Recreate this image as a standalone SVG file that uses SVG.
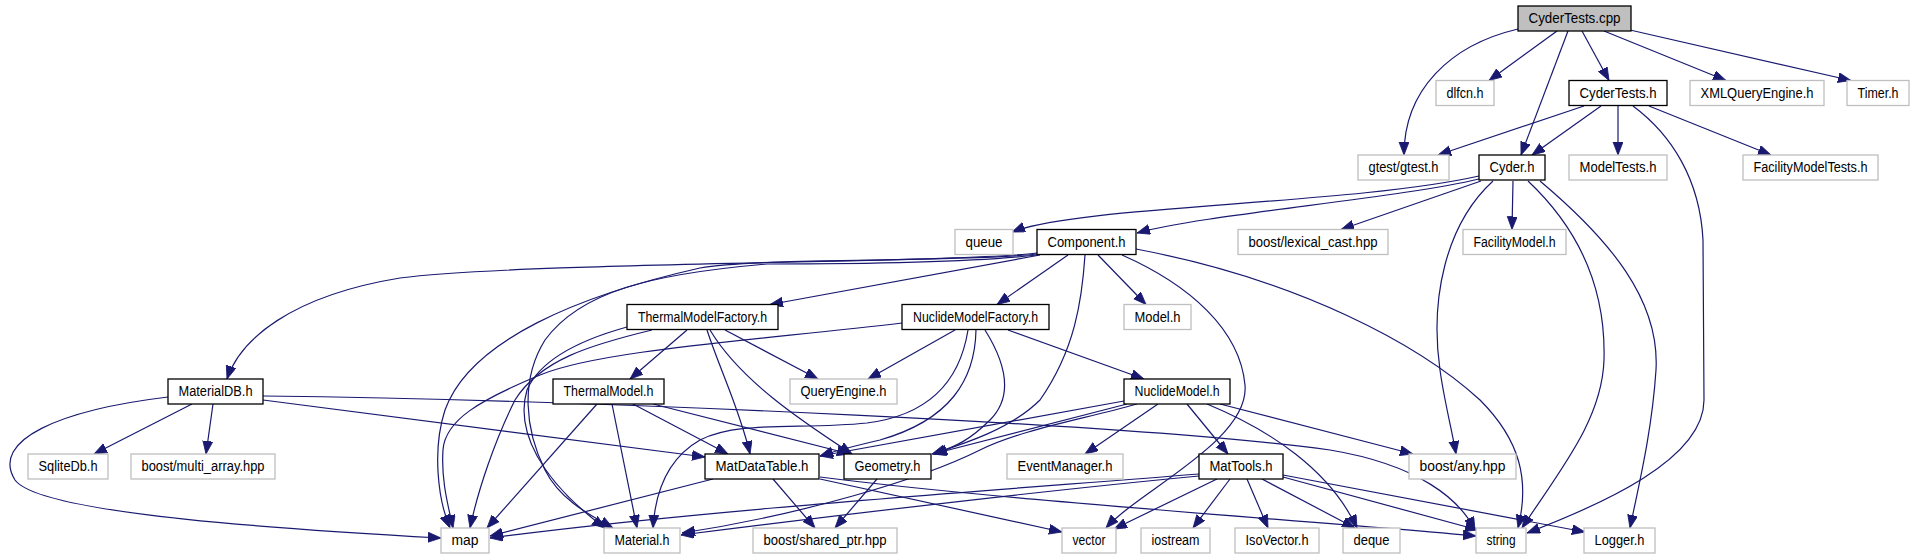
<svg xmlns="http://www.w3.org/2000/svg" width="1915" height="560" viewBox="0 0 1915 560">
<style>
.node rect{fill:#ffffff;stroke:#000000;stroke-width:1.3}
.ext rect{fill:#ffffff;stroke:#bfbfbf;stroke-width:1.3}
.root rect{fill:#bfbfbf;stroke:#000000;stroke-width:1.3}
text{font-family:"Liberation Sans",Arial,Helvetica,sans-serif;font-size:14px;fill:#000;text-anchor:middle}
#edges path{fill:none;stroke:#191970;stroke-width:1.2;marker-end:url(#arr)}
</style>
<defs>
<marker id="arr" markerUnits="userSpaceOnUse" markerWidth="14" markerHeight="11" refX="13" refY="5" orient="auto">
<path d="M0,0 L13,5 L0,10 z" fill="#191970" stroke="#191970" stroke-width="0.8"/>
</marker>
</defs>
<rect x="0" y="0" width="1915" height="560" fill="#ffffff"/>
<g id="edges">
<path d="M1518,29 C1450,45 1404,90 1404,155"/>
<path d="M1557,31 L1489,80.5"/>
<path d="M1568,31 L1521,155"/>
<path d="M1582,31 L1609,80.5"/>
<path d="M1604,31 L1726,80.5"/>
<path d="M1630,30 L1851,80.5"/>
<path d="M1584,106 L1438,155"/>
<path d="M1601,106 L1532,155"/>
<path d="M1618,106 L1618,155"/>
<path d="M1649,106 L1771,155"/>
<path d="M1633,106 C1672,135 1700,180 1703,240 L1704,400 C1704,460 1600,505 1527,533"/>
<path d="M1479,176 C1350,205 1080,205 1012,232"/>
<path d="M1479,179 C1400,198 1200,215 1137,233"/>
<path d="M1481,181 L1341,229.5"/>
<path d="M1513,181 L1512,229.5"/>
<path d="M1493,181 C1445,225 1430,300 1440,370 C1444,400 1452,430 1456,454"/>
<path d="M1528,181 C1580,230 1606,290 1604,360 C1602,420 1560,470 1522,528"/>
<path d="M1540,181 C1610,240 1660,300 1656,370 C1652,430 1640,480 1630,528"/>
<path d="M1037,253 C960,263 520,262 400,278 C290,296 240,340 227,379"/>
<path d="M1037,254 C960,263 760,257 700,268 C580,295 470,340 445,410 C432,450 438,500 450,528"/>
<path d="M1037,255 C960,264 800,264 767,264 C650,274 580,292 545,340 C520,380 525,430 545,470 C560,500 590,515 613,528"/>
<path d="M1040,255 L770,304.5"/>
<path d="M1068,255 L997,304.5"/>
<path d="M1085,255 C1082,300 1075,350 1040,400 C1010,430 960,445 932,454"/>
<path d="M1098,255 L1146,304.5"/>
<path d="M1122,255 C1190,285 1240,330 1245,385 C1250,440 1140,490 1106,528"/>
<path d="M1136,249 C1300,280 1420,345 1480,400 C1520,440 1530,480 1518,528"/>
<path d="M687,330 L630,379"/>
<path d="M725,330 L818,379"/>
<path d="M707,330 C720,370 740,410 750,454"/>
<path d="M710,330 C740,380 800,420 852,454"/>
<path d="M652,330 C590,345 540,360 515,400 C495,440 478,490 470,528"/>
<path d="M627,327 C580,340 540,360 527,390 C515,430 540,480 605,528"/>
<path d="M955,330 L868,379"/>
<path d="M1008,330 L1144,379"/>
<path d="M902,323 C760,340 600,350 540,375 C480,400 445,420 443,450 C441,480 448,505 453,528"/>
<path d="M968,330 C960,380 930,415 867,423 C800,430 740,420 700,440 C665,460 655,495 653,528"/>
<path d="M976,330 C975,380 950,420 880,440 C850,447 835,451 820,456"/>
<path d="M985,330 C1010,370 1010,400 990,420 C970,440 955,447 934,454"/>
<path d="M192,404 L94,454"/>
<path d="M213,404 L206,454"/>
<path d="M168,397 C60,410 -10,440 15,480 C40,515 300,530 441,538"/>
<path d="M263,400 L705,457"/>
<path d="M263,396 C600,400 1150,425 1330,450 C1420,465 1460,500 1475,530"/>
<path d="M597,404 L487,528"/>
<path d="M612,404 L637,528"/>
<path d="M633,404 L728,454"/>
<path d="M653,404 L850,454"/>
<path d="M1158,404 L1085,454"/>
<path d="M1187,404 L1228,454"/>
<path d="M1207,404 C1270,430 1330,470 1357,528"/>
<path d="M1220,404 L1413,454"/>
<path d="M1124,401 L820,456"/>
<path d="M1127,404 L933,454"/>
<path d="M1137,404 C1080,420 1020,430 980,450 C920,480 800,515 682,533"/>
<path d="M713,479 L490,536"/>
<path d="M773,479 L815,528"/>
<path d="M820,479 L1062,532"/>
<path d="M820,477 C1000,500 1300,520 1476,536"/>
<path d="M877,479 L835,528"/>
<path d="M1217,479 L1114,529"/>
<path d="M1230,479 L1193,528"/>
<path d="M1247,479 L1268,528"/>
<path d="M1262,479 L1355,528"/>
<path d="M1283,477 L1478,530"/>
<path d="M1283,475 L1585,532"/>
<path d="M1199,474 C1000,490 700,510 490,538"/>
<path d="M1199,476 C1000,495 800,520 681,535"/>
</g>
<g id="n_cyderTestsCpp" class="root"><rect x="1518" y="6" width="113" height="25"/><text x="1574.5" y="23" textLength="92" lengthAdjust="spacingAndGlyphs">CyderTests.cpp</text></g>
<g id="n_dlfcn" class="ext"><rect x="1436" y="80.5" width="58" height="25"/><text x="1465" y="97.5" textLength="37" lengthAdjust="spacingAndGlyphs">dlfcn.h</text></g>
<g id="n_cyderTestsH" class="node"><rect x="1569" y="80.5" width="98" height="25"/><text x="1618" y="97.5" textLength="77" lengthAdjust="spacingAndGlyphs">CyderTests.h</text></g>
<g id="n_xmlQueryEngine" class="ext"><rect x="1690" y="80.5" width="134" height="25"/><text x="1757" y="97.5" textLength="113" lengthAdjust="spacingAndGlyphs">XMLQueryEngine.h</text></g>
<g id="n_timer" class="ext"><rect x="1847" y="80.5" width="62" height="25"/><text x="1878" y="97.5" textLength="41" lengthAdjust="spacingAndGlyphs">Timer.h</text></g>
<g id="n_gtest" class="ext"><rect x="1358" y="155" width="91" height="25"/><text x="1403.5" y="172" textLength="70" lengthAdjust="spacingAndGlyphs">gtest/gtest.h</text></g>
<g id="n_cyderH" class="node"><rect x="1479" y="155" width="66" height="25"/><text x="1512" y="172" textLength="45" lengthAdjust="spacingAndGlyphs">Cyder.h</text></g>
<g id="n_modelTests" class="ext"><rect x="1569" y="155" width="98" height="25"/><text x="1618" y="172" textLength="77" lengthAdjust="spacingAndGlyphs">ModelTests.h</text></g>
<g id="n_facilityModelTests" class="ext"><rect x="1743" y="155" width="135" height="25"/><text x="1810.5" y="172" textLength="114" lengthAdjust="spacingAndGlyphs">FacilityModelTests.h</text></g>
<g id="n_queue" class="ext"><rect x="955" y="229.5" width="58" height="25"/><text x="984" y="246.5" textLength="37" lengthAdjust="spacingAndGlyphs">queue</text></g>
<g id="n_component" class="node"><rect x="1037" y="229.5" width="99" height="25"/><text x="1086.5" y="246.5" textLength="78" lengthAdjust="spacingAndGlyphs">Component.h</text></g>
<g id="n_lexicalCast" class="ext"><rect x="1238" y="229.5" width="150" height="25"/><text x="1313" y="246.5" textLength="129" lengthAdjust="spacingAndGlyphs">boost/lexical_cast.hpp</text></g>
<g id="n_facilityModel" class="ext"><rect x="1463" y="229.5" width="103" height="25"/><text x="1514.5" y="246.5" textLength="82" lengthAdjust="spacingAndGlyphs">FacilityModel.h</text></g>
<g id="n_thermalModelFactory" class="node"><rect x="627" y="304.5" width="151" height="25"/><text x="702.5" y="321.5" textLength="129" lengthAdjust="spacingAndGlyphs">ThermalModelFactory.h</text></g>
<g id="n_nuclideModelFactory" class="node"><rect x="902" y="304.5" width="147" height="25"/><text x="975.5" y="321.5" textLength="125" lengthAdjust="spacingAndGlyphs">NuclideModelFactory.h</text></g>
<g id="n_model" class="ext"><rect x="1124" y="304.5" width="67" height="25"/><text x="1157.5" y="321.5" textLength="46" lengthAdjust="spacingAndGlyphs">Model.h</text></g>
<g id="n_materialDB" class="node"><rect x="168" y="379" width="95" height="25"/><text x="215.5" y="396" textLength="74" lengthAdjust="spacingAndGlyphs">MaterialDB.h</text></g>
<g id="n_thermalModel" class="node"><rect x="553" y="379" width="111" height="25"/><text x="608.5" y="396" textLength="90" lengthAdjust="spacingAndGlyphs">ThermalModel.h</text></g>
<g id="n_queryEngine" class="ext"><rect x="790" y="379" width="107" height="25"/><text x="843.5" y="396" textLength="86" lengthAdjust="spacingAndGlyphs">QueryEngine.h</text></g>
<g id="n_nuclideModel" class="node"><rect x="1124" y="379" width="106" height="25"/><text x="1177" y="396" textLength="85" lengthAdjust="spacingAndGlyphs">NuclideModel.h</text></g>
<g id="n_sqliteDb" class="ext"><rect x="28" y="454" width="80" height="25"/><text x="68" y="471" textLength="59" lengthAdjust="spacingAndGlyphs">SqliteDb.h</text></g>
<g id="n_multiArray" class="ext"><rect x="131" y="454" width="144" height="25"/><text x="203" y="471" textLength="123" lengthAdjust="spacingAndGlyphs">boost/multi_array.hpp</text></g>
<g id="n_matDataTable" class="node"><rect x="705" y="454" width="114" height="25"/><text x="762" y="471" textLength="93" lengthAdjust="spacingAndGlyphs">MatDataTable.h</text></g>
<g id="n_geometry" class="node"><rect x="844" y="454" width="87" height="25"/><text x="887.5" y="471" textLength="66" lengthAdjust="spacingAndGlyphs">Geometry.h</text></g>
<g id="n_eventManager" class="ext"><rect x="1007" y="454" width="116" height="25"/><text x="1065" y="471" textLength="95" lengthAdjust="spacingAndGlyphs">EventManager.h</text></g>
<g id="n_matTools" class="node"><rect x="1199" y="454" width="84" height="25"/><text x="1241" y="471" textLength="63" lengthAdjust="spacingAndGlyphs">MatTools.h</text></g>
<g id="n_any" class="ext"><rect x="1409" y="454" width="107" height="25"/><text x="1462.5" y="471" textLength="86" lengthAdjust="spacingAndGlyphs">boost/any.hpp</text></g>
<g id="n_map" class="ext"><rect x="441" y="528" width="48" height="25"/><text x="465" y="545" textLength="27" lengthAdjust="spacingAndGlyphs">map</text></g>
<g id="n_material" class="ext"><rect x="604" y="528" width="76" height="25"/><text x="642" y="545" textLength="55" lengthAdjust="spacingAndGlyphs">Material.h</text></g>
<g id="n_sharedPtr" class="ext"><rect x="753" y="528" width="144" height="25"/><text x="825" y="545" textLength="123" lengthAdjust="spacingAndGlyphs">boost/shared_ptr.hpp</text></g>
<g id="n_vector" class="ext"><rect x="1062" y="528" width="54" height="25"/><text x="1089" y="545" textLength="33" lengthAdjust="spacingAndGlyphs">vector</text></g>
<g id="n_iostream" class="ext"><rect x="1141" y="528" width="69" height="25"/><text x="1175.5" y="545" textLength="48" lengthAdjust="spacingAndGlyphs">iostream</text></g>
<g id="n_isoVector" class="ext"><rect x="1235" y="528" width="84" height="25"/><text x="1277" y="545" textLength="63" lengthAdjust="spacingAndGlyphs">IsoVector.h</text></g>
<g id="n_deque" class="ext"><rect x="1343" y="528" width="57" height="25"/><text x="1371.5" y="545" textLength="36" lengthAdjust="spacingAndGlyphs">deque</text></g>
<g id="n_string" class="ext"><rect x="1476" y="528" width="50" height="25"/><text x="1501" y="545" textLength="29" lengthAdjust="spacingAndGlyphs">string</text></g>
<g id="n_logger" class="ext"><rect x="1584" y="528" width="71" height="25"/><text x="1619.5" y="545" textLength="50" lengthAdjust="spacingAndGlyphs">Logger.h</text></g>
</svg>
